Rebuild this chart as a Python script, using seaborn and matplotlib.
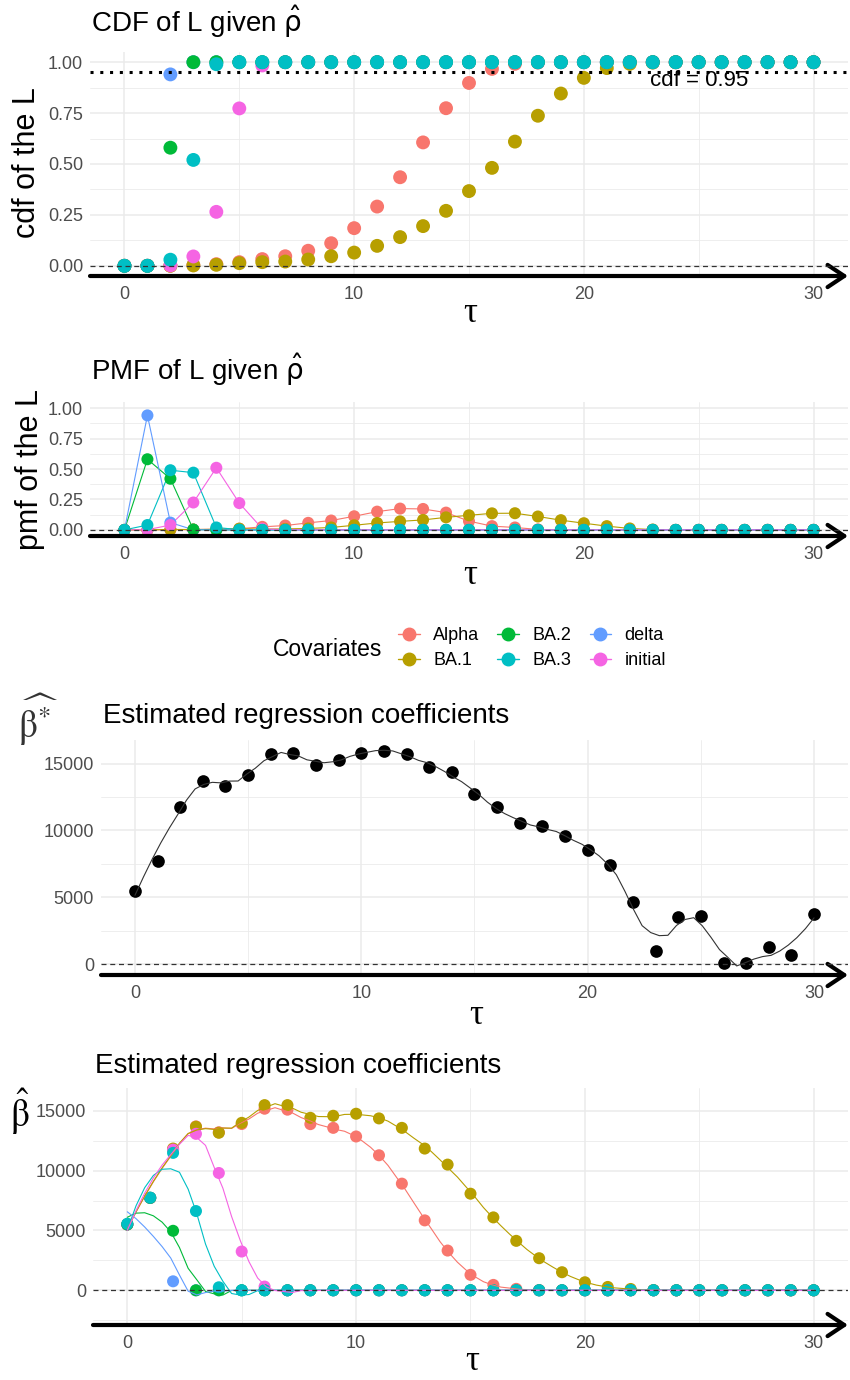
import numpy as np
import pandas as pd
import matplotlib
matplotlib.use("Agg")
import matplotlib.pyplot as plt
import seaborn as sns
from matplotlib.lines import Line2D

# ---- data ----
tau = list(range(31))
covariates = ["Alpha", "BA.1", "BA.2", "BA.3", "delta", "initial"]
palette = ["#F8766D", "#B79F00", "#00BA38", "#00BFC4", "#619CFF", "#F564E3"]
draw_order = ["Alpha", "BA.1", "delta", "initial", "BA.2", "BA.3"]

cdf_alpha = [0, 0, 0.001, 0.003, 0.008, 0.018, 0.033, 0.047, 0.074, 0.111, 0.185, 0.291, 0.435,
             0.606, 0.774, 0.898, 0.967, 0.992, 0.998] + [1.0] * 12
cdf_ba1 = [0, 0, 0, 0.002, 0.005, 0.013, 0.018, 0.021, 0.031, 0.047, 0.065, 0.098, 0.141, 0.195,
           0.27, 0.367, 0.481, 0.61, 0.737, 0.846, 0.923, 0.971, 0.992, 0.998] + [1.0] * 7
cdf_ba2 = [0, 0, 0.58] + [1.0] * 28
cdf_ba3 = [0, 0, 0.03, 0.52, 0.99] + [1.0] * 26
cdf_delta = [0, 0, 0.94] + [1.0] * 28
cdf_initial = [0, 0, 0.002, 0.046, 0.265, 0.773, 0.984] + [1.0] * 24

pmf_alpha = [0, 0, 0.001, 0.003, 0.006, 0.01, 0.025, 0.036, 0.058, 0.077, 0.112, 0.15, 0.175,
             0.172, 0.142, 0.072, 0.031, 0.02, 0.004, 0.001] + [0] * 11
pmf_ba1 = [0, 0, 0.004, 0.003, 0.005, 0.01, 0.007, 0.008, 0.012, 0.02, 0.038, 0.057, 0.07, 0.082,
           0.103, 0.12, 0.136, 0.137, 0.11, 0.08, 0.055, 0.031, 0.012, 0.003] + [0] * 7
pmf_ba2 = [0, 0.58, 0.42, 0.003] + [0] * 27
pmf_ba3 = [0, 0.04, 0.49, 0.47, 0.02, 0.002] + [0] * 25
pmf_delta = [0, 0.94, 0.06, 0.001] + [0] * 27
pmf_initial = [0, 0.002, 0.04, 0.225, 0.51, 0.22, 0.01, 0.001] + [0] * 23

beta_star = [5500, 7720, 11770, 13720, 13300, 14140, 15690, 15760, 14920, 15250, 15810, 15960,
             15740, 14730, 14380, 12700, 11770, 10530, 10310, 9620, 8560, 7450, 4660, 990,
             3550, 3630, 70, 70, 1280, 720, 3780]

beta_alpha = [5500, 7720, 11760, 13690, 13200, 13890, 15170, 15090, 13880, 13570, 12850, 11280,
              8910, 5840, 3320, 1290, 450, 120, 20] + [0] * 12
beta_ba1 = [5500, 7720, 11840, 13660, 13160, 13990, 15470, 15470, 14410, 14580, 14750, 14360,
            13570, 11840, 10500, 8070, 6090, 4130, 2680, 1510, 670, 280, 110, 20] + [0] * 7
beta_ba2 = [5500, 7720, 4970] + [0] * 28
beta_ba3 = [5560, 7740, 11480, 6620, 250] + [0] * 26
beta_delta = [5500, 7720, 750] + [0] * 28
beta_initial = [5500, 7720, 11750, 13070, 9800, 3240, 310] + [0] * 24


def long_frame(series):
    rows = []
    for cov in draw_order:
        for t, v in zip(tau, series[cov]):
            rows.append((t, v, cov))
    return pd.DataFrame(rows, columns=["tau", "value", "Covariates"])


cdf_df = long_frame(dict(zip(covariates, [cdf_alpha, cdf_ba1, cdf_ba2, cdf_ba3, cdf_delta, cdf_initial])))
pmf_df = long_frame(dict(zip(covariates, [pmf_alpha, pmf_ba1, pmf_ba2, pmf_ba3, pmf_delta, pmf_initial])))
beta_df = long_frame(dict(zip(covariates, [beta_alpha, beta_ba1, beta_ba2, beta_ba3, beta_delta, beta_initial])))


def loess(x, y, grid, span=0.2):
    # local quadratic fit with tricube weights (like geom_smooth(method="loess"))
    x = np.asarray(x, float)
    y = np.asarray(y, float)
    q = int(np.floor(len(x) * span))
    out = []
    for x0 in grid:
        d = np.abs(x - x0)
        h = np.sort(d)[q - 1] * 1.05
        w = np.clip(1 - (d / h) ** 3, 0, None) ** 3
        X = np.vstack([np.ones_like(x), x - x0, (x - x0) ** 2]).T
        sw = np.sqrt(w)
        coef = np.linalg.lstsq(X * sw[:, None], y * sw, rcond=None)[0]
        out.append(coef[0])
    return np.array(out)


sns.set_theme(style="white")
plt.rcParams["font.family"] = ["Liberation Sans", "DejaVu Sans"]
plt.rcParams["mathtext.fontset"] = "dejavusans"
plt.rcParams["text.color"] = "black"

W, H = 850, 1380
fig = plt.figure(figsize=(W / 100, H / 100), dpi=100)
hue_kw = dict(hue="Covariates", hue_order=covariates, palette=palette, legend=False)


def add_ax(left, top, right, bottom):
    return fig.add_axes([left / W, 1 - bottom / H, (right - left) / W, (bottom - top) / H])


def ftext(x, y, s, **kw):
    return fig.text(x / W, 1 - y / H, s, **kw)


def style(ax, ylim, yticks, ylabels, yminor):
    ax.set_xlim(-1.5, 31.5)
    ax.set_ylim(*ylim)
    ax.set_xticks([0, 10, 20, 30])
    ax.set_xticks([5, 15, 25], minor=True)
    ax.set_yticks(yticks)
    ax.set_yticklabels(ylabels)
    ax.set_yticks(yminor, minor=True)
    ax.set_axisbelow(True)
    ax.grid(which="major", color="#EBEBEB", lw=1.1)
    ax.grid(which="minor", color="#EBEBEB", lw=0.6)
    ax.tick_params(which="both", length=0, labelsize=13, labelcolor="#4D4D4D")
    ax.tick_params(axis="x", pad=7)
    ax.tick_params(axis="y", pad=5)
    for s in ax.spines.values():
        s.set_visible(False)
    ax.axhline(0, ls=(0, (4, 3)), color="#333333", lw=0.9, zorder=6)
    ax.annotate("", xy=(1, 0), xytext=(0, 0), xycoords="axes fraction", annotation_clip=False,
                arrowprops=dict(arrowstyle="->,head_length=0.6,head_width=0.4", lw=3,
                                color="black", shrinkA=0, shrinkB=0, mutation_scale=20))
    ax.set_xlabel("")
    ax.set_ylabel("")


serif = ["Liberation Serif", "DejaVu Serif"]
prob_ticks = [0, 0.25, 0.5, 0.75, 1.0]
prob_labels = ["0.00", "0.25", "0.50", "0.75", "1.00"]

# ---- CDF ----
ax1 = add_ax(90, 52, 848, 276)
sns.scatterplot(data=cdf_df, x="tau", y="value", s=100, linewidth=0, ax=ax1, **hue_kw)
ax1.axhline(0.95, ls=(0, (1, 2.2)), color="black", lw=2.2, zorder=6)
ax1.text(25, 0.91, "cdf = 0.95", ha="center", va="center", fontsize=16)
style(ax1, (-0.05, 1.05), prob_ticks, prob_labels, [0.125, 0.375, 0.625, 0.875])
ftext(91, 32, r"CDF of L given $\hat{\mathrm{\rho}}$", fontsize=20, va="baseline")
ftext(27, 163, "cdf of the L", fontsize=22, rotation=90, ha="center", va="center")
ftext(470, 314, "τ", fontsize=25, family=serif, ha="center", va="center")

# ---- PMF ----
ax2 = add_ax(90, 402, 848, 536)
sns.lineplot(data=pmf_df, x="tau", y="value", lw=0.8, ax=ax2, **hue_kw)
sns.scatterplot(data=pmf_df, x="tau", y="value", s=75, linewidth=0, ax=ax2, zorder=3, **hue_kw)
style(ax2, (-0.05, 1.05), prob_ticks, prob_labels, [0.125, 0.375, 0.625, 0.875])
ftext(91, 380, r"PMF of L given $\hat{\mathrm{\rho}}$", fontsize=20, va="baseline")
ftext(30, 470, "pmf of the L", fontsize=22, rotation=90, ha="center", va="center")
ftext(470, 575, "τ", fontsize=25, family=serif, ha="center", va="center")

# ---- legend ----
handles = [Line2D([0], [0], color=c, marker="o", ms=9, lw=1) for c in palette]
fig.legend(handles, covariates, ncol=3, loc="center left", bbox_to_anchor=(398 / W, 1 - 648 / H),
           frameon=False, fontsize=13, handlelength=1.2, handletextpad=0.75, columnspacing=1.0,
           labelspacing=0.45, borderpad=0, borderaxespad=0)
ftext(273, 650, "Covariates", fontsize=16.5, va="center")

grid = np.linspace(0, 30, 80)

# ---- beta star ----
ax3 = add_ax(101, 740, 848, 975)
sns.scatterplot(x=tau, y=beta_star, color="black", s=83, linewidth=0, ax=ax3)
sns.lineplot(x=grid, y=loess(tau, beta_star, grid), color="#333333", lw=0.8, ax=ax3)
style(ax3, (-800, 16760), [0, 5000, 10000, 15000], ["0", "5000", "10000", "15000"], [2500, 7500, 12500])
ftext(103, 723, "Estimated regression coefficients", fontsize=20, va="baseline")
ftext(38, 720, r"$\widehat{\mathrm{\beta}^{*}}$", fontsize=27, color="#333333", ha="center",
      va="center", math_fontfamily="stix")
ftext(476, 1015, "τ", fontsize=25, family=serif, ha="center", va="center")

# ---- beta per covariate ----
ax4 = add_ax(93, 1088, 848, 1325)
sns.scatterplot(data=beta_df, x="tau", y="value", s=75, linewidth=0, ax=ax4, **hue_kw)
beta_by_cov = dict(zip(covariates, [beta_alpha, beta_ba1, beta_ba2, beta_ba3, beta_delta, beta_initial]))
for cov, col in zip(covariates, palette):
    sns.lineplot(x=grid, y=loess(tau, beta_by_cov[cov], grid), color=col, lw=0.8, ax=ax4, zorder=4)
style(ax4, (-2900, 16900), [0, 5000, 10000, 15000], ["0", "5000", "10000", "15000"],
      [-2500, 2500, 7500, 12500])
ftext(95, 1073, "Estimated regression coefficients", fontsize=20, va="baseline")
ftext(20, 1112, r"$\hat{\mathrm{\beta}}$", fontsize=27, ha="center", va="center",
      math_fontfamily="stix")
ftext(472, 1362, "τ", fontsize=25, family=serif, ha="center", va="center")

fig.savefig("out.png", dpi=100)
